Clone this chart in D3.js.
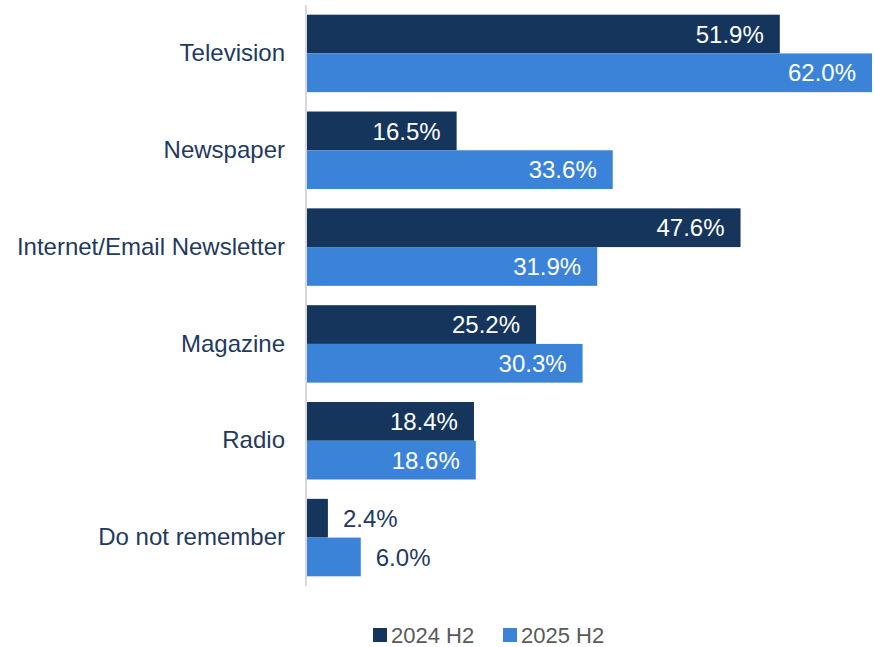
<!DOCTYPE html>
<html>
<head>
<meta charset="utf-8">
<style>
  body { margin: 0; background: #fff; }
  text { font-family: "Liberation Sans", Arial, sans-serif; }
</style>
</head>
<body>
<div id="chart"></div>
<script src="https://d3js.org/d3.v7.min.js"></script>
<script>
// chart data
var categories = ["Television", "Newspaper", "Internet/Email Newsletter", "Magazine", "Radio", "Do not remember"];
var seriesNames = ["2024 H2", "2025 H2"];
var values2024 = [51.9, 16.5, 47.6, 25.2, 18.4, 2.4];
var values2025 = [62.0, 33.6, 31.9, 30.3, 18.6, 6.0];
var colors = ["#15355c", "#3b83d8"];

var W = 874, H = 647;
var x0 = 306;

var svg = d3.select("#chart").append("svg")
  .attr("width", W).attr("height", H);

var x = d3.scaleLinear().domain([0, 62]).range([x0, 872]);
var y = d3.scaleBand().domain(categories).range([5, 586])
  .paddingInner(0.2).paddingOuter(0.1);
var ys = d3.scaleBand().domain(seriesNames).range([0, y.bandwidth()]);

var rows = [];
categories.forEach(function(c, i) {
  rows.push({cat: c, s: seriesNames[0], v: values2024[i], col: colors[0]});
  rows.push({cat: c, s: seriesNames[1], v: values2025[i], col: colors[1]});
});

svg.selectAll("rect.bar").data(rows).enter().append("rect")
  .attr("class", "bar")
  .attr("x", x0)
  .attr("y", function(d) { return y(d.cat) + ys(d.s); })
  .attr("width", function(d) { return x(d.v) - x0; })
  .attr("height", ys.bandwidth())
  .attr("fill", function(d) { return d.col; });

// value labels: inside when the bar is wide enough
function inside(d) { return (x(d.v) - x0) > 90; }
svg.selectAll("text.val").data(rows).enter().append("text")
  .attr("class", "val")
  .attr("x", function(d) { return inside(d) ? x(d.v) - 16 : x(d.v) + 15; })
  .attr("y", function(d) { return y(d.cat) + ys(d.s) + ys.bandwidth() / 2; })
  .attr("dy", "0.36em")
  .attr("text-anchor", function(d) { return inside(d) ? "end" : "start"; })
  .attr("font-size", 24)
  .attr("fill", function(d) { return inside(d) ? "#ffffff" : "#1f3a60"; })
  .text(function(d) { return d.v.toFixed(1) + "%"; });

// axis line
svg.append("line")
  .attr("x1", x0).attr("x2", x0)
  .attr("y1", 5).attr("y2", 586)
  .attr("stroke", "#d9d9d9").attr("stroke-width", 2);

// category labels
var yAxis = d3.axisLeft(y).tickSize(0).tickPadding(21);
var ga = svg.append("g").attr("transform", "translate(" + x0 + ",0)").call(yAxis);
ga.select(".domain").remove();
ga.selectAll("text")
  .attr("font-size", 24)
  .attr("font-family", "Liberation Sans, Arial, sans-serif")
  .attr("fill", "#1f3a60");

// legend
var legX = [373, 503];
seriesNames.forEach(function(s, i) {
  var g = svg.append("g").attr("transform", "translate(" + legX[i] + ",635)");
  g.append("rect").attr("x", 0).attr("y", -7).attr("width", 14).attr("height", 14).attr("fill", colors[i]);
  g.append("text").attr("x", 18).attr("dy", "0.36em")
    .attr("font-size", 22).attr("fill", "#595959").text(s);
});
</script>
</body>
</html>
